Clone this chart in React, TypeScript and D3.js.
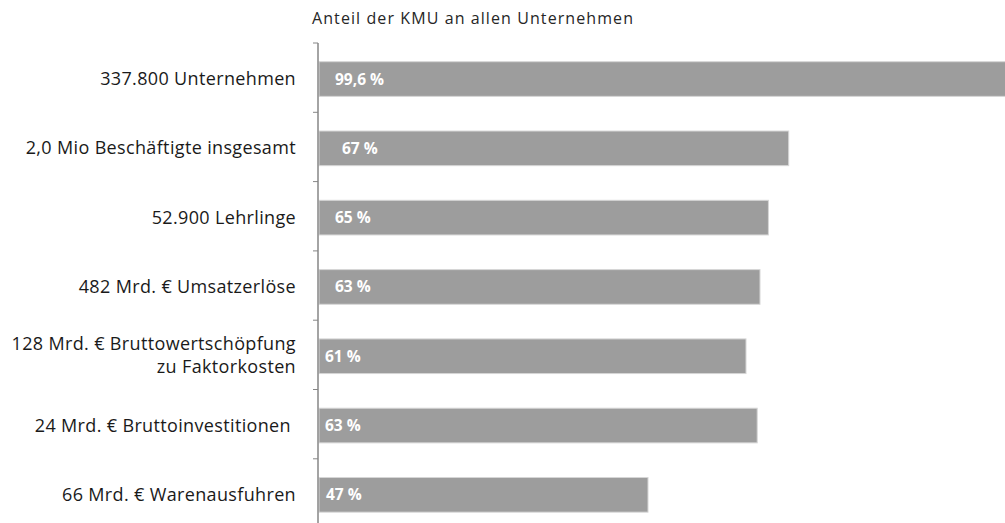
import React from "react";
import * as d3 from "d3";

const categories: string[][] = [
  ["337.800 Unternehmen"],
  ["2,0 Mio Beschäftigte insgesamt"],
  ["52.900 Lehrlinge"],
  ["482 Mrd. € Umsatzerlöse"],
  ["128 Mrd. € Bruttowertschöpfung", "zu Faktorkosten"],
  ["24 Mrd. € Bruttoinvestitionen "],
  ["66 Mrd. € Warenausfuhren"],
];
const values: number[] = [99.6, 67.1, 64.2, 63.0, 61.0, 62.6, 47.0];
const valueLabels: string[] = ["99,6 %", "67 %", "65 %", "63 %", "61 %", "63 %", "47 %"];
const title = "Anteil der KMU an allen Unternehmen";

// layout-only tweaks for the label placement inside the bars
const labelDx: number[] = [16, 23, 16, 16, 6, 6, 7];

const W = 1005;
const H = 523;
const axisX = 318;
const FONT = "'Open Sans', 'Noto Sans', sans-serif";

export default function App() {
  const ids = categories.map((_, i) => String(i));
  const y = d3
    .scaleBand<string>()
    .domain(ids)
    .range([43, 43 + 69.3 * 7.04])
    .paddingInner(0.5)
    .paddingOuter(0.27);
  const x = d3.scaleLinear().domain([0, 100]).range([axisX + 1, axisX + 1 + 700]);
  const step = y.step();
  const bh = y.bandwidth();

  return (
    <svg
      width={W}
      height={H}
      style={{ position: "absolute", left: 0, top: 0, overflow: "hidden" }}
      fontFamily={FONT}
    >
      <rect x={0} y={0} width={W} height={H} fill="#ffffff" />
      <text
        x={312}
        y={24}
        fontSize={16}
        fill="#262626"
        textLength={321}
        lengthAdjust="spacing"
      >
        {title}
      </text>
      {ids.map((id, i) => {
        const y0 = y(id)!;
        const cy = y0 + bh / 2;
        const lines = categories[i];
        return (
          <g key={id}>
            <rect
              x={x(0)}
              y={y0}
              width={x(values[i]) - x(0)}
              height={bh}
              fill="#9d9d9d"
              stroke="#d6d6d6"
              strokeWidth={1}
            />
            <text
              x={x(0) + labelDx[i]}
              y={cy + 5.5}
              fontSize={15.5}
              fontWeight="bold"
              fill="#ffffff"
            >
              {valueLabels[i]}
            </text>
            {lines.length === 1 ? (
              <text
                x={296}
                y={cy + 6}
                textAnchor="end"
                fontSize={18}
                letterSpacing={0.35}
                fill="#1a1a1a"
                style={{ whiteSpace: "pre" }}
              >
                {lines[0]}
              </text>
            ) : (
              lines.map((l, k) => (
                <text
                  key={k}
                  x={296}
                  y={cy - 6 + k * 23}
                  textAnchor="end"
                  fontSize={18}
                  letterSpacing={0.35}
                  fill="#1a1a1a"
                >
                  {l}
                </text>
              ))
            )}
            <line
              x1={axisX - 5}
              x2={axisX}
              y1={y0 - step * 0.27}
              y2={y0 - step * 0.27}
              stroke="#868686"
              strokeWidth={1}
            />
          </g>
        );
      })}
      <line x1={axisX} x2={axisX} y1={43} y2={H + 10} stroke="#868686" strokeWidth={1.5} />
    </svg>
  );
}
